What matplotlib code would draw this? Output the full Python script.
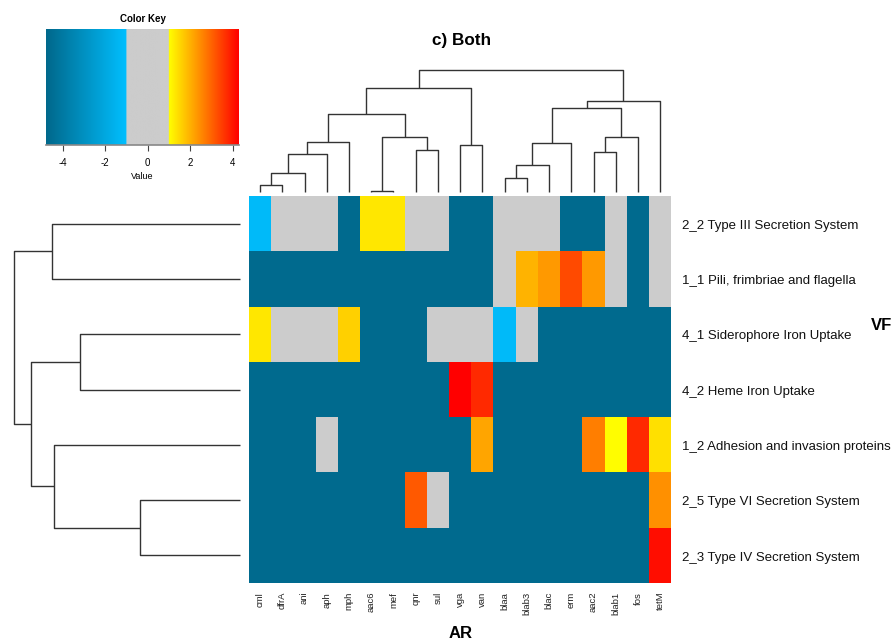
import numpy as np
import matplotlib
matplotlib.use("Agg")
import matplotlib.pyplot as plt
from matplotlib.colors import LinearSegmentedColormap

plt.rcParams['font.family'] = ['Liberation Sans', 'DejaVu Sans']

# ---- data -------------------------------------------------------------
ar_genes = ["cml", "dfrA", "ani", "aph", "mph", "aac6", "mef", "qnr", "sul",
            "vga", "van", "blaa", "blab3", "blac", "erm", "aac2", "blab1",
            "fos", "tetM"]
vf_groups = ["2_2 Type III Secretion System",
             "1_1 Pili, frimbriae and flagella",
             "4_1 Siderophore Iron Uptake",
             "4_2 Heme Iron Uptake",
             "1_2 Adhesion and invasion proteins",
             "2_5 Type VI Secretion System",
             "2_3 Type IV Secretion System"]

L = -4.7  # floor value for absent associations
type3_secretion = [-1.2, 0, 0, 0, L, 1.3, 1.3, 0, 0, L, L, 0, 0, 0, L, L, 0, L, 0]
pili_fimbriae   = [L, L, L, L, L, L, L, L, L, L, L, 0, 1.98, 2.32, 3.34, 2.32, 0, L, 0]
siderophore     = [1.3, 0, 0, 0, 1.61, L, L, L, 0, 0, 0, -1.2, 0, L, L, L, L, L, L]
heme_uptake     = [L, L, L, L, L, L, L, L, L, 4.3, 3.76, L, L, L, L, L, L, L, L]
adhesion        = [L, L, L, 0, L, L, L, L, L, L, 2.16, L, L, L, L, 2.66, 1.02, 3.76, 1.4]
type6_secretion = [L, L, L, L, L, L, L, 3.14, 0, L, L, L, L, L, L, L, L, L, 2.44]
type4_secretion = [L, L, L, L, L, L, L, L, L, L, L, L, L, L, L, L, L, L, 4.13]

# column dendrogram merges: (left, right, height); leaves 0..18, nodes from 19
col_merges = [(0, 1, 20), (19, 2, 55), (20, 3, 113), (21, 4, 148),
              (5, 6, 2), (7, 8, 125), (23, 24, 163), (22, 25, 233),
              (9, 10, 140), (26, 27, 310), (11, 12, 40), (29, 13, 80),
              (30, 14, 147), (15, 16, 120), (32, 17, 165), (31, 33, 252),
              (34, 18, 273), (28, 35, 365)]
# row dendrogram merges: leaves 0..6, nodes from 7
row_merges = [(0, 1, 563), (2, 3, 479), (5, 6, 299), (4, 9, 559),
              (8, 10, 628), (7, 11, 678)]

key_ticks = [-4, -2, 0, 2, 4]
vmin, vmax = -4.79, 4.3

matrix = np.array([type3_secretion, pili_fimbriae, siderophore, heme_uptake,
                   adhesion, type6_secretion, type4_secretion])

# ---- colour scale: blue ramp, grey band, yellow-to-red ramp --------------
def pos(v):
    return (v - vmin) / (vmax - vmin)

cmap = LinearSegmentedColormap.from_list("key", [
    (0.0, "#00688B"), (pos(-1.0), "#00BFFF"), (pos(-1.0), "#CCCCCC"),
    (pos(1.0), "#CCCCCC"), (pos(1.0), "#FFFF00"), (1.0, "#FF0000")], N=1024)

W, H = 894, 642
fig = plt.figure(figsize=(W / 100, H / 100), dpi=100)


def px_axes(x0, y0, x1, y1):
    return fig.add_axes([x0 / W, 1 - y1 / H, (x1 - x0) / W, (y1 - y0) / H])


# ---- heatmap ------------------------------------------------------------
hx0, hy0, hx1, hy1 = 249, 196, 671.3, 583
ax = px_axes(hx0, hy0, hx1, hy1)
ncol, nrow = len(ar_genes), len(vf_groups)
ax.pcolormesh(np.arange(ncol + 1), np.arange(nrow + 1), matrix,
              cmap=cmap, vmin=vmin, vmax=vmax)
ax.set_xlim(0, ncol)
ax.set_ylim(nrow, 0)
ax.set_xticks([])
ax.set_yticks([])
for s in ax.spines.values():
    s.set_visible(False)
for i, g in enumerate(ar_genes):
    ax.text(i + 0.5, nrow + 0.16, g, rotation=90, ha="center", va="top",
            fontsize=6.8, color="#222222")
for j, r in enumerate(vf_groups):
    ax.text(ncol + 0.5, j + 0.54, r, ha="left", va="center", fontsize=9.5,
            color="#111111")


# ---- dendrograms ----------------------------------------------------------
def draw_dendro(axd, merges, nleaf, vertical):
    posn = {i: i + 0.5 for i in range(nleaf)}
    hgt = {i: 0.0 for i in range(nleaf)}
    for k, (a, b, h) in enumerate(merges):
        node = nleaf + k
        pa, pb = posn[a], posn[b]
        xs = [pa, pa, pb, pb]
        ys = [hgt[a], h, h, hgt[b]]
        if vertical:
            axd.plot(xs, ys, color="#333333", lw=1.0, clip_on=False,
                     solid_capstyle="butt")
        else:
            axd.plot(ys, xs, color="#333333", lw=1.0, clip_on=False,
                     solid_capstyle="butt")
        posn[node] = (pa + pb) / 2
        hgt[node] = h


axc = px_axes(hx0, 70, hx1, 191.7)
draw_dendro(axc, col_merges, ncol, True)
axc.set_xlim(0, ncol)
axc.set_ylim(0, 365)
axc.axis("off")

axr = px_axes(14, hy0, 240, hy1)
draw_dendro(axr, row_merges, nrow, False)
axr.set_xlim(678, 0)
axr.set_ylim(nrow, 0)
axr.axis("off")

# ---- colour key ---------------------------------------------------------
axk = px_axes(46, 29, 239, 145)
grad = np.linspace(vmin, vmax, 600)[None, :]
axk.imshow(grad, cmap=cmap, vmin=vmin, vmax=vmax, aspect="auto",
           extent=[vmin, vmax, 0, 1])
axk.set_xlim(vmin, vmax)
axk.set_ylim(0, 1)
axk.set_yticks([])
axk.set_xticks(key_ticks)
axk.set_xticklabels([str(t) for t in key_ticks], fontsize=7)
axk.tick_params(axis="x", length=4, width=0.8, color="#444444", pad=5)
for side in ("top", "left", "right"):
    axk.spines[side].set_visible(False)
axk.spines["bottom"].set_color("#888888")
axk.spines["bottom"].set_linewidth(1.2)
axk.set_xlabel("Value", fontsize=6.5, labelpad=3)
axk.set_title("Color Key", fontsize=7, fontweight="bold", pad=5)

# ---- titles -------------------------------------------------------------
fig.text(462 / W, 1 - 40 / H, "c) Both", ha="center", va="center",
         fontsize=12.3, fontweight="bold")
fig.text(461 / W, 1 - 634 / H, "AR", ha="center", va="center",
         fontsize=12, fontweight="bold")
fig.text(882 / W, 1 - 325 / H, "VF", ha="center", va="center",
         fontsize=12, fontweight="bold")

fig.savefig("out.png", dpi=100)
